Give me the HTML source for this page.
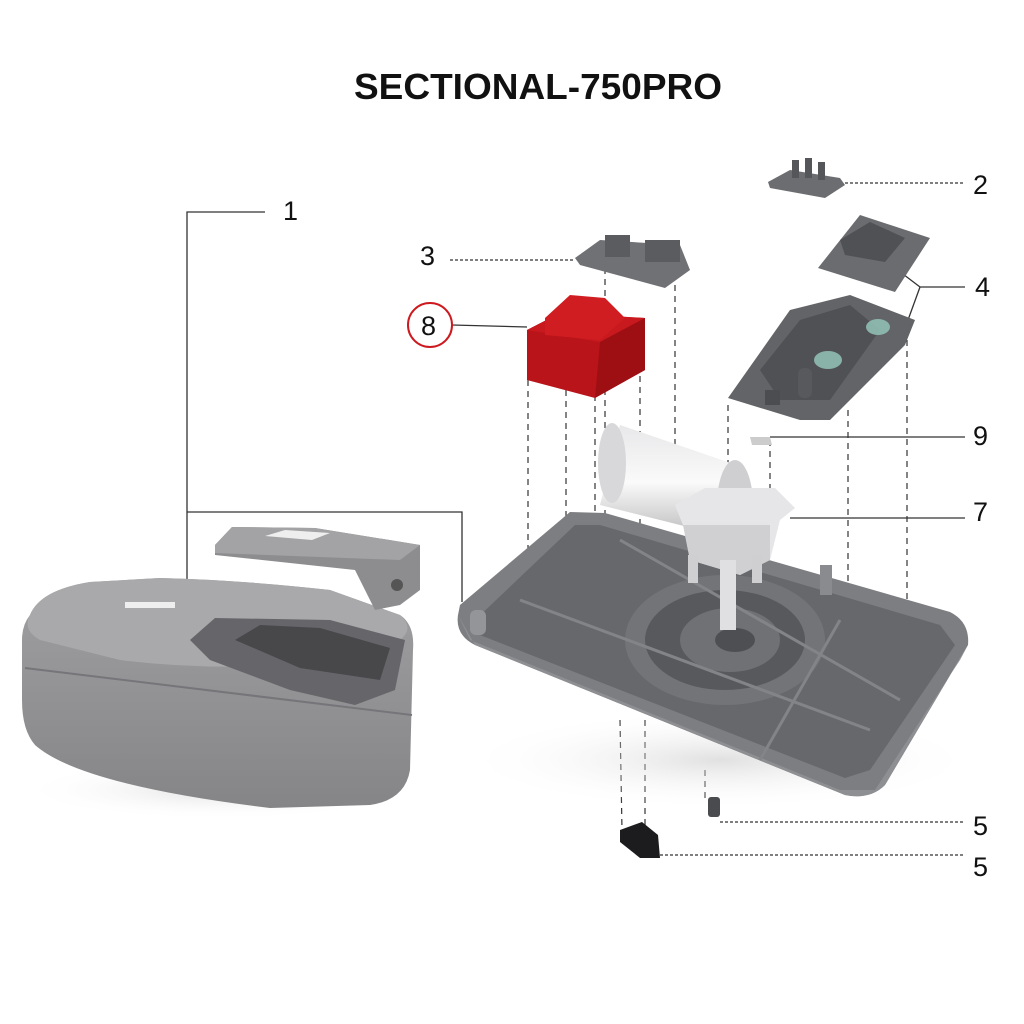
<!DOCTYPE html>
<html><head><meta charset="utf-8"><style>
html,body{margin:0;padding:0;background:#fff;}
svg{display:block;}
text{font-family:"Liberation Sans",sans-serif;}
</style></head><body>
<svg width="1024" height="1024" viewBox="0 0 1024 1024" xmlns="http://www.w3.org/2000/svg">
<defs>
<linearGradient id="mot" x1="0" y1="0" x2="0" y2="1"><stop offset="0" stop-color="#e8e8ea"/><stop offset="0.5" stop-color="#fafafa"/><stop offset="1" stop-color="#b8b8ba"/></linearGradient>
<linearGradient id="hf" x1="0" y1="0" x2="0" y2="1"><stop offset="0" stop-color="#a0a0a2"/><stop offset="1" stop-color="#858587"/></linearGradient>
<radialGradient id="sh" cx="0.5" cy="0.5" r="0.5"><stop offset="0" stop-color="#ccc" stop-opacity="0.6"/><stop offset="1" stop-color="#fff" stop-opacity="0"/></radialGradient>
</defs>
<rect width="1024" height="1024" fill="#fff"/>
<text x="538" y="99" text-anchor="middle" font-size="36" font-weight="bold" fill="#111" textLength="368" lengthAdjust="spacingAndGlyphs">SECTIONAL-750PRO</text>

<g stroke="#333" stroke-width="1.3" fill="none">
<polyline points="265,212 187,212 187,582"/>
<polyline points="187,512 462,512 462,602"/>
<line x1="452" y1="325" x2="527" y2="327"/>
<polyline points="965,287 920,287 895,268"/>
<line x1="920" y1="287" x2="908" y2="320"/>
<line x1="770" y1="437" x2="965" y2="437"/>
<line x1="790" y1="518" x2="965" y2="518"/>
<line x1="660" y1="855" x2="965" y2="855" stroke-dasharray="3,2"/>
<line x1="720" y1="822" x2="965" y2="822" stroke-dasharray="3,2"/>
<line x1="845" y1="183" x2="965" y2="183" stroke-dasharray="3,2"/>
<line x1="450" y1="260" x2="575" y2="260" stroke-dasharray="3,2"/>
</g>
<g stroke="#333" stroke-width="1.2" stroke-dasharray="6,5" fill="none">
<line x1="528" y1="380" x2="528" y2="620"/>
<line x1="566" y1="390" x2="566" y2="620"/>
<line x1="595" y1="395" x2="595" y2="620"/>
<line x1="605" y1="268" x2="605" y2="640"/>
<line x1="640" y1="365" x2="640" y2="620"/>
<line x1="675" y1="285" x2="675" y2="520"/>
<line x1="728" y1="405" x2="728" y2="720"/>
<line x1="770" y1="440" x2="770" y2="650"/>
<line x1="848" y1="410" x2="848" y2="720"/>
<line x1="907" y1="340" x2="907" y2="640"/>
<line x1="620" y1="720" x2="622" y2="830"/>
<line x1="645" y1="720" x2="645" y2="830"/>
<line x1="705" y1="770" x2="705" y2="800"/>
</g>

<!-- housing -->
<ellipse cx="220" cy="790" rx="200" ry="30" fill="url(#sh)"/>
<path d="M30,615 Q40,590 90,582 L160,578 Q240,580 330,590 L400,615 Q415,625 413,650 L410,770 Q405,800 370,805 L270,808 Q80,785 35,745 Q22,730 22,700 L22,640 Q22,625 30,615 Z" fill="url(#hf)"/>
<path d="M30,615 Q40,590 90,582 L160,578 Q240,580 330,590 L400,615 Q415,628 400,640 L290,665 Q200,670 120,660 L40,640 Q22,630 30,615 Z" fill="#a9a9ab"/>
<line x1="25" y1="668" x2="412" y2="715" stroke="#76767a" stroke-width="2"/>
<path d="M190,640 L215,618 L330,620 L405,640 L395,690 L355,705 L290,690 L210,660 Z" fill="#66666a"/>
<path d="M235,640 L260,625 L320,628 L390,648 L380,680 L300,668 Z" fill="#48484b"/>
<rect x="125" y="602" width="50" height="6" fill="#eee"/>
<path d="M215,545 L232,527 L315,528 L420,545 L420,590 L400,605 L375,610 L355,570 L215,555 Z" fill="#8d8d90"/>
<path d="M215,545 L232,527 L315,528 L420,545 L400,560 L215,553 Z" fill="#a3a3a5"/>
<path d="M265,536 L285,530 L330,533 L312,540 Z" fill="#eee"/>
<circle cx="397" cy="585" r="6" fill="#555"/>

<!-- base plate -->
<ellipse cx="720" cy="760" rx="260" ry="50" fill="url(#sh)"/>
<path d="M460,605 L570,512 L605,513 L950,612 Q970,622 968,645 L885,785 Q870,800 845,795 L475,645 Q455,635 458,615 Z" fill="#7d7e81"/>
<path d="M475,620 L575,525 L600,525 L940,625 L955,645 L870,770 L845,778 L480,635 Z" fill="#67686b"/>
<path d="M458,615 L475,645 L845,795 Q870,800 885,785 L968,645 L960,660 L875,790 L840,790 L470,640 Z" fill="#8e8f92"/>
<ellipse cx="725" cy="640" rx="100" ry="65" fill="#737477"/>
<ellipse cx="725" cy="640" rx="80" ry="50" fill="#58595c"/>
<ellipse cx="730" cy="640" rx="50" ry="32" fill="#707174"/>
<ellipse cx="735" cy="640" rx="20" ry="12" fill="#4e4f52"/>
<g stroke="#838487" stroke-width="3">
<line x1="620" y1="540" x2="900" y2="700"/><line x1="520" y1="600" x2="870" y2="730"/><line x1="840" y1="620" x2="760" y2="760"/>
</g>
<rect x="820" y="565" width="12" height="30" fill="#8a8b8e"/>
<rect x="470" y="610" width="16" height="25" rx="6" fill="#949598"/>

<!-- motor -->
<path d="M620,425 L745,468 L740,540 L600,505 Z" fill="url(#mot)"/>
<ellipse cx="612" cy="463" rx="14" ry="40" fill="#d8d8da"/>
<ellipse cx="735" cy="505" rx="18" ry="45" fill="#cfcfd1"/>
<path d="M675,505 L705,488 L775,488 L795,508 L780,520 L770,560 L740,575 L690,560 L683,525 Z" fill="#e6e6e8"/>
<path d="M683,525 L770,525 L770,560 L740,575 L690,560 Z" fill="#d0d0d2"/>
<rect x="720" y="560" width="16" height="70" fill="#e0e0e2"/>
<rect x="688" y="555" width="10" height="28" fill="#cfcfd1"/>
<rect x="752" y="555" width="10" height="28" fill="#cfcfd1"/>
<path d="M750,437 L770,437 L772,445 L752,445 Z" fill="#ccc"/>

<!-- red transformer -->
<path d="M527,330 L560,313 L645,318 L645,370 L595,398 L527,380 Z" fill="#b9141a"/>
<path d="M527,330 L560,313 L645,318 L600,342 Z" fill="#c8191f"/>
<path d="M545,318 L570,295 L605,298 L625,318 L600,340 L545,335 Z" fill="#d01d22"/>
<path d="M600,342 L645,318 L645,370 L595,398 Z" fill="#9e0f14"/>

<!-- part 3 -->
<path d="M575,258 L600,240 L680,245 L690,270 L665,288 L580,265 Z" fill="#707174"/>
<rect x="605" y="235" width="25" height="22" fill="#5b5c5f"/>
<rect x="645" y="240" width="35" height="22" fill="#5b5c5f"/>
<!-- part 2 -->
<path d="M768,182 L790,170 L840,178 L845,185 L825,198 L770,188 Z" fill="#6c6d70"/>
<g fill="#55565a"><rect x="792" y="160" width="7" height="18"/><rect x="805" y="158" width="7" height="20"/><rect x="818" y="162" width="7" height="18"/></g>
<!-- part 4 -->
<path d="M818,268 L860,215 L930,238 L895,292 Z" fill="#6b6c6f"/>
<path d="M840,240 L870,222 L905,238 L885,262 L845,255 Z" fill="#505154"/>
<path d="M728,398 L790,310 L850,295 L915,320 L905,345 L830,420 L800,420 Z" fill="#636467"/>
<path d="M760,370 L800,320 L850,305 L880,330 L830,400 L780,400 Z" fill="#505154"/>
<ellipse cx="828" cy="360" rx="14" ry="9" fill="#8fbdb2" opacity="0.9"/>
<ellipse cx="878" cy="327" rx="12" ry="8" fill="#8fbdb2" opacity="0.9"/>
<rect x="798" y="368" width="14" height="30" rx="6" fill="#58595c"/>
<rect x="765" y="390" width="15" height="15" fill="#4c4d50"/>

<!-- part 5 -->
<rect x="708" y="797" width="12" height="20" rx="3" fill="#4a4b4e"/>
<path d="M620,830 L642,822 L658,835 L660,858 L640,858 L620,842 Z" fill="#1c1c1e"/>

<g font-size="27" fill="#111">
<text x="283" y="220">1</text>
<text x="973" y="194">2</text>
<text x="420" y="265">3</text>
<text x="975" y="296">4</text>
<text x="973" y="445">9</text>
<text x="973" y="521">7</text>
<text x="973" y="835">5</text>
<text x="973" y="876">5</text>
<text x="421" y="335">8</text>
</g>
<circle cx="430" cy="325" r="22" fill="none" stroke="#cc1a1f" stroke-width="2"/>
</svg>
</body></html>
